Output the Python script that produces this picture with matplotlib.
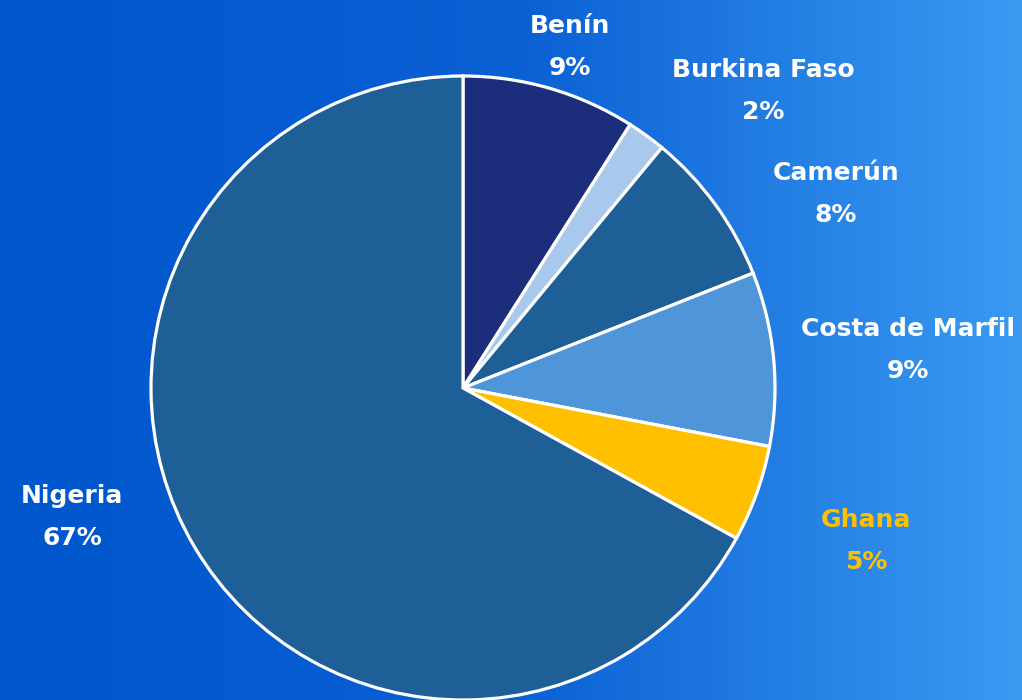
import numpy as np
import matplotlib.pyplot as plt
from matplotlib.colors import LinearSegmentedColormap

countries = ['Benín', 'Burkina Faso', 'Camerún', 'Costa de Marfil', 'Ghana', 'Nigeria']
shares = [9, 2, 8, 9, 5, 67]
colors = ['#1c2d7b', '#a8c8ec', '#1f5f97', '#4e95d9', '#ffc000', '#1f5f97']
label_colors = ['white', 'white', 'white', 'white', '#ffc000', 'white']
# label anchor points in pixels (x, y from top)
label_pos = [(570, 47), (763, 91), (836, 194), (908, 350), (866, 541), (72, 517)]

W, H = 1022, 700
fig = plt.figure(figsize=(W / 100, H / 100), dpi=100)

# gradient background
bg = fig.add_axes([0, 0, 1, 1], zorder=0)
grad = np.linspace(0, 1, 512).reshape(1, -1)
cmap = LinearSegmentedColormap.from_list('bg', ['#0056cc', '#0a5fd3', '#3a9af2'])
bg.imshow(grad, aspect='auto', cmap=cmap, extent=(0, 1, 0, 1))
bg.axis('off')

ax = fig.add_axes([0, 0, 1, 1], zorder=1)
ax.patch.set_alpha(0)
cx, cy, r = 463, H - 388, 312
ax.pie(shares, colors=colors, startangle=90, counterclock=False,
       center=(cx, cy), radius=r, frame=True,
       wedgeprops=dict(edgecolor='white', linewidth=2.3))
ax.set_xlim(0, W)
ax.set_ylim(0, H)
ax.set_aspect('equal')
ax.axis('off')

for name, val, (px, py), c in zip(countries, shares, label_pos, label_colors):
    ax.text(px, H - py, f'{name}\n{val}%', ha='center', va='center',
            color=c, fontsize=18, fontweight='bold', family='DejaVu Sans',
            linespacing=1.95)

fig.savefig('out.png', dpi=100)
